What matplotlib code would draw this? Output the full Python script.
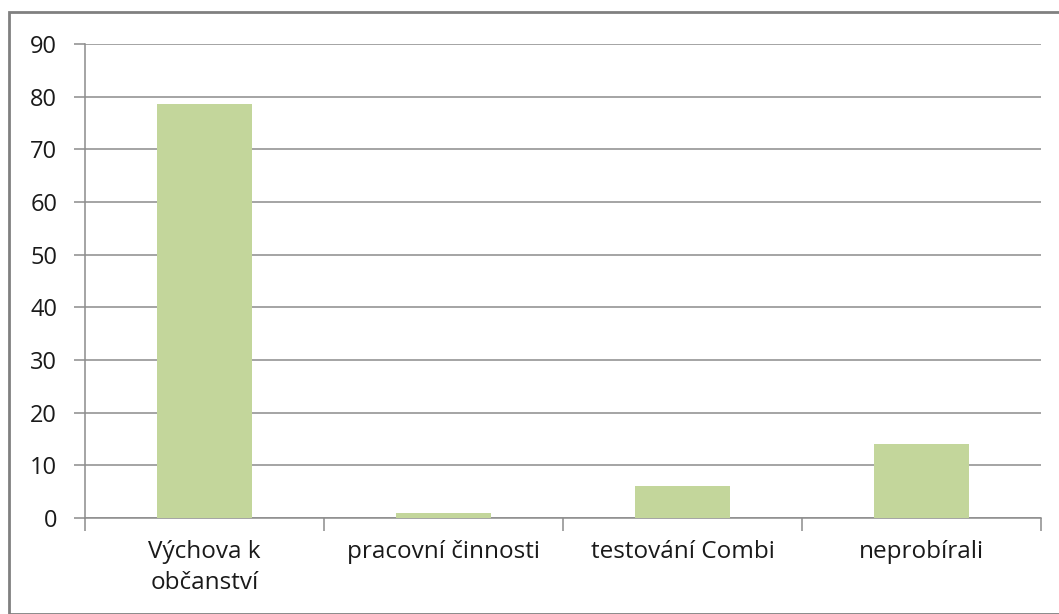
import matplotlib.pyplot as plt
from matplotlib.patches import Rectangle

categories = ["Výchova k\nobčanství", "pracovní činnosti", "testování Combi", "neprobírali"]
values = [78.7, 1, 6, 14]

plt.rcParams['font.family'] = ['Open Sans', 'DejaVu Sans']

W, H = 1059, 614
fig = plt.figure(figsize=(W / 100, H / 100), dpi=100)
ax = fig.add_axes([85 / W, 1 - 518 / H, (1041 - 85) / W, (518 - 44) / H])

grid_c = '#8c8c8c'
pos = range(len(categories))
ax.bar(pos, values, width=0.4, color='#c3d69b', zorder=3)

ax.set_xlim(-0.5, len(categories) - 0.5)
ax.set_ylim(0, 90)
ax.set_yticks(range(0, 91, 10))
ax.yaxis.grid(True, color=grid_c, linewidth=1.1, zorder=0)

ax.set_xticks([p - 0.5 for p in range(len(categories) + 1)])
ax.set_xticklabels([])
ax.set_xticks(list(pos), minor=True)
ax.set_xticklabels(categories, minor=True, fontsize=17.5, color='#1a1a1a', linespacing=1.35)
ax.tick_params(axis='x', which='minor', length=0, pad=16)
ax.tick_params(axis='x', which='major', length=9, color=grid_c, width=1.1)
ax.tick_params(axis='y', length=8, color=grid_c, width=1.1, labelsize=17, labelcolor='#1a1a1a', pad=12)

for side in ['top', 'right']:
    ax.spines[side].set_visible(False)
for side in ['left', 'bottom']:
    ax.spines[side].set_color(grid_c)
    ax.spines[side].set_linewidth(1.1)

# outer chart frame
fig.patches.append(Rectangle((9 / W, 0), 1.5, 1 - 12 / H, transform=fig.transFigure,
                             fill=False, edgecolor='#808080', linewidth=2))

fig.savefig("out.png", dpi=100)
